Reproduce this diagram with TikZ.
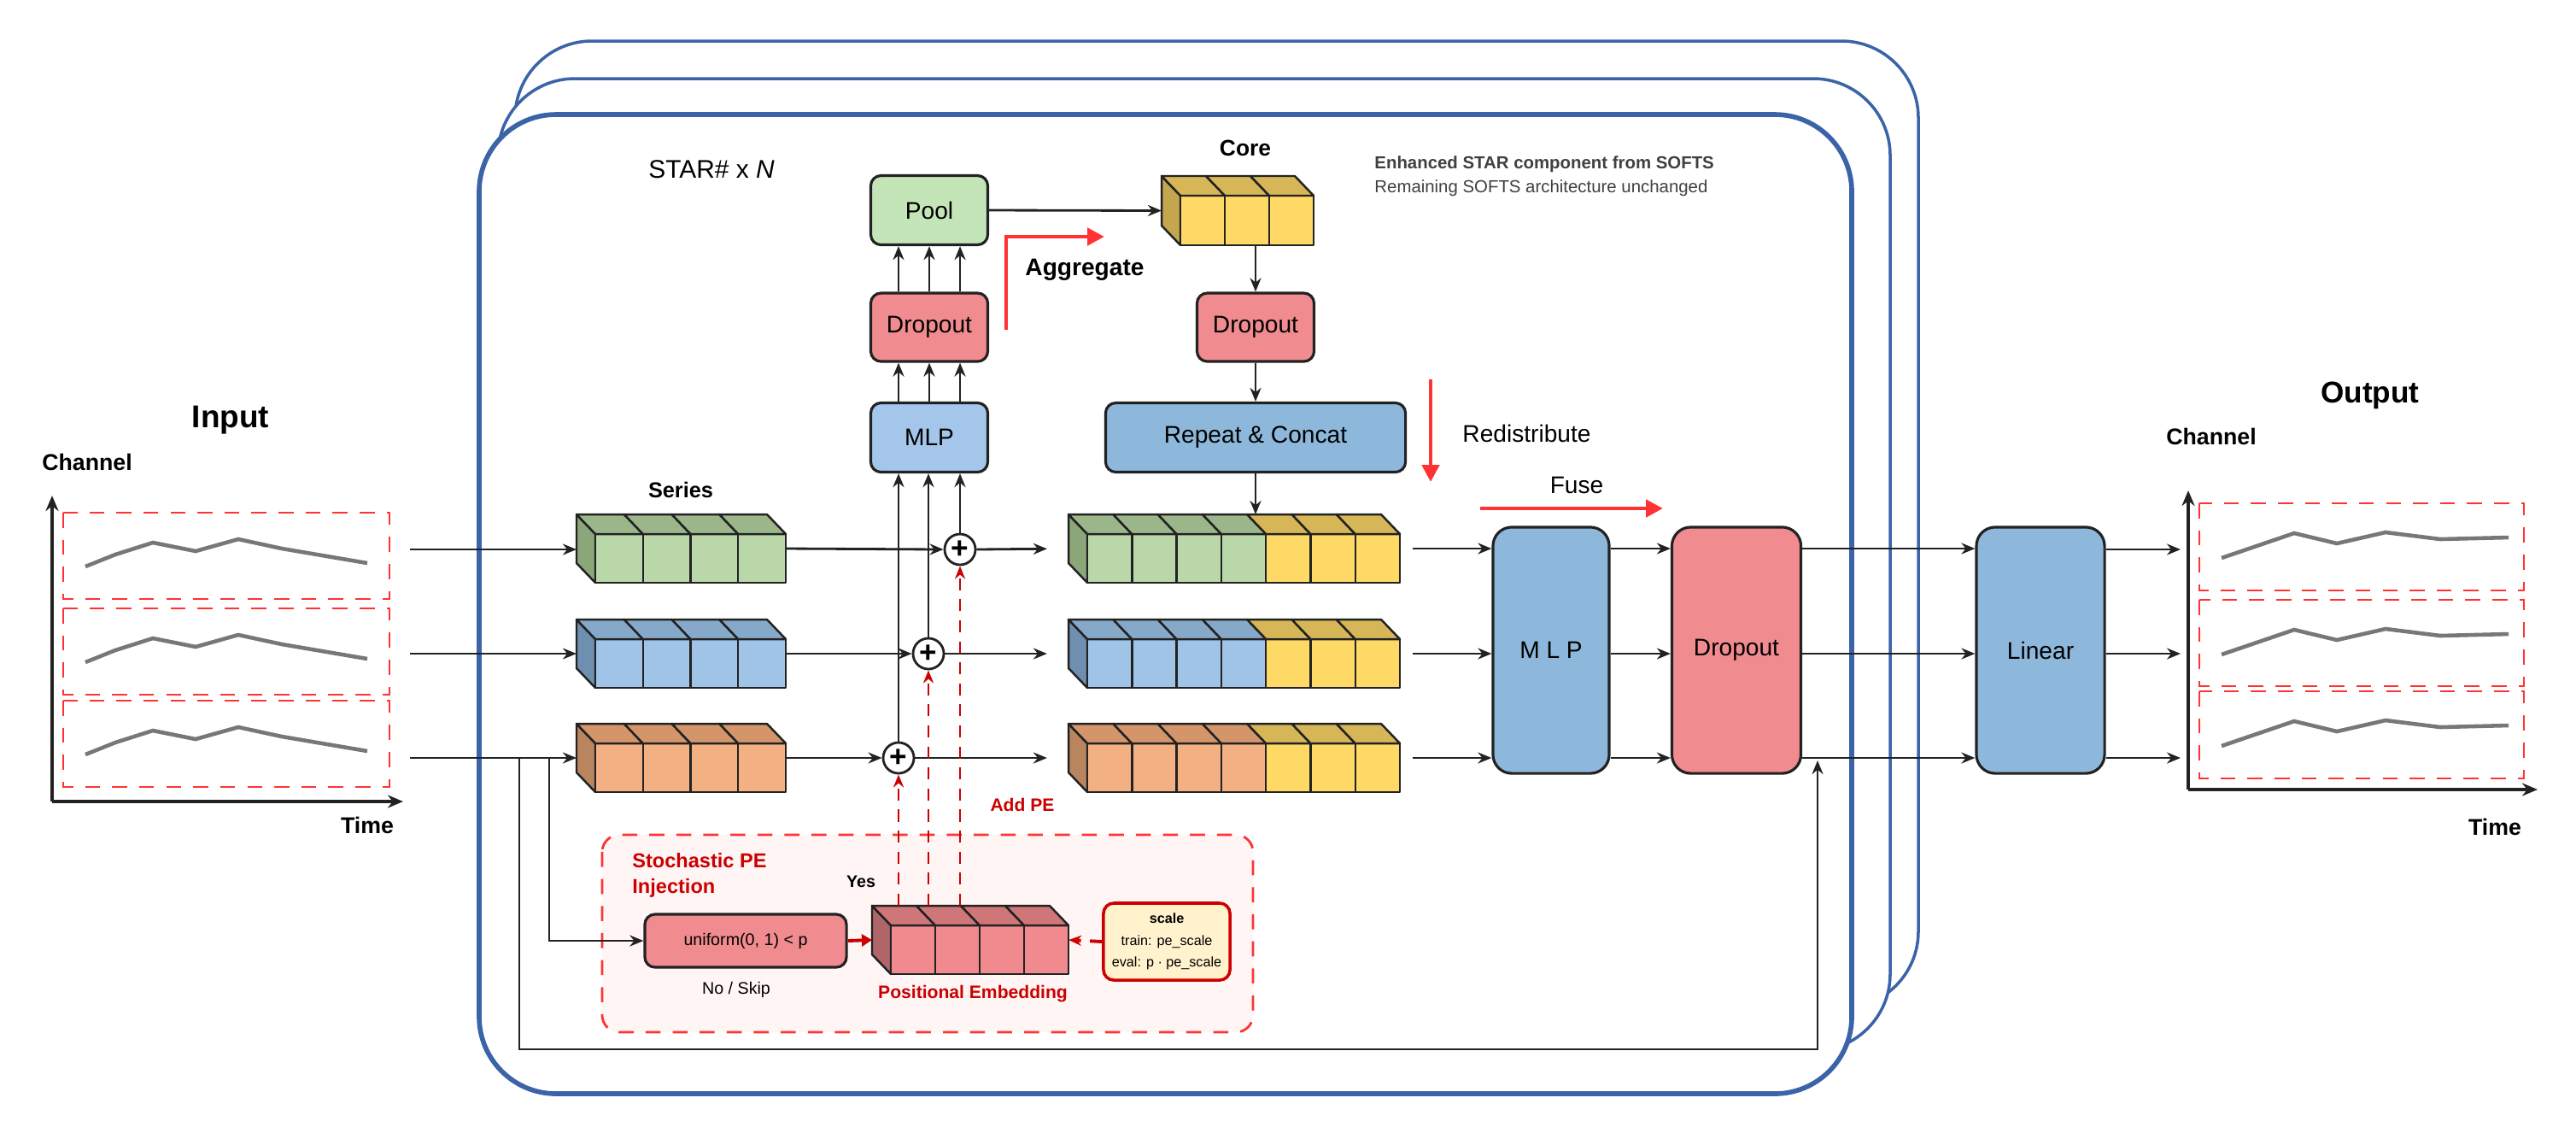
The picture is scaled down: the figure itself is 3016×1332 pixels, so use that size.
\documentclass[tikz,border=0pt]{standalone}
\usepackage{fontspec}
\setmainfont{Liberation Sans}
\usetikzlibrary{arrows.meta,calc}
\definecolor{gF}{HTML}{B9D7A8}\definecolor{gT}{HTML}{9BB78A}\definecolor{gS}{HTML}{8BA77A}
\definecolor{bF}{HTML}{A0C4E8}\definecolor{bT}{HTML}{87A9C9}\definecolor{bS}{HTML}{6E8FB0}
\definecolor{oF}{HTML}{F3B183}\definecolor{oT}{HTML}{D4956A}\definecolor{oS}{HTML}{B8855F}
\definecolor{yF}{HTML}{FFD966}\definecolor{yT}{HTML}{D6B656}\definecolor{yS}{HTML}{C4A64F}
\definecolor{pF}{HTML}{F08A8E}\definecolor{pT}{HTML}{CF7679}\definecolor{pS}{HTML}{B06669}
\definecolor{poolc}{HTML}{C3E5B7}\definecolor{dropc}{HTML}{F08B8F}\definecolor{smlpc}{HTML}{A4C6EA}
\definecolor{bluec}{HTML}{8DB8DB}\definecolor{redc}{HTML}{FF3333}\definecolor{dred}{HTML}{CC0000}
\definecolor{framec}{HTML}{3B63A8}\definecolor{linec}{HTML}{222222}\definecolor{plotc}{HTML}{777777}
\definecolor{scalec}{HTML}{FFF2CC}\definecolor{panelc}{HTML}{FFF5F5}
\tikzset{
 cubeline/.style={draw=linec,line width=0.7pt,line join=round},
 box/.style={draw=linec,line width=0.9pt,rounded corners=0.12cm,inner sep=0,font=\fontsize{8}{9}\selectfont},
 arr/.style={draw=linec,line width=0.8pt,-{Stealth[length=0.16cm,width=0.13cm]}},
 plain/.style={draw=linec,line width=0.8pt},
 rarr/.style={draw=redc,line width=1.4pt,-{Triangle[length=0.2cm,width=0.2cm]}},
 pearr/.style={draw=dred,line width=0.8pt,dash pattern=on 4pt off 3pt,-{Stealth[length=0.15cm,width=0.12cm]}},
 plus/.style={circle,draw=linec,line width=0.8pt,fill=white,minimum size=0.36cm,inner sep=0},
 frame/.style={draw=framec,fill=white,rounded corners=0.9cm},
 reddash/.style={draw=redc,line width=0.8pt,dash pattern=on 5pt off 4pt},
 series/.style={draw=plotc,line width=1.3pt},
}
\newcommand\mycube[9]{%
 \pgfmathsetmacro\ntot{int(#6+#7)}%
 \pgfmathsetmacro\fx{#2+22}\pgfmathsetmacro\fy{#3+23}%
 \pgfmathsetmacro\cw{(#4-\fx)/\ntot}%
 \draw[cubeline,fill=#8S] (#2,#3)--(\fx,\fy)--(\fx,#5)--(#2,#5-23)--cycle;
 \foreach \i in {1,...,\ntot}{%
   \pgfmathsetmacro\xa{\fx+(\i-1)*\cw}\pgfmathsetmacro\xb{\fx+\i*\cw}%
   \ifnum\i>#6 \def\cc{#9}\else\def\cc{#8}\fi
   \draw[cubeline,fill=\cc F] (\xa,\fy) rectangle (\xb,#5);
   \draw[cubeline,fill=\cc T] (\xa-22,#3)--(\xb-22,#3)--(\xb,\fy)--(\xa,\fy)--cycle;
 }%
 \node[inner sep=0,outer sep=0,minimum width={(#4-#2)*0.2845pt},minimum height={(#5-#3)*0.2845pt}] (#1) at ({(#2+#4)/2},{(#3+#5)/2}) {};
}
\begin{document}
\begin{tikzpicture}[x=0.01cm,y=-0.01cm]
\useasboundingbox (0,0) rectangle (3016,1332);
% frames
\draw[frame,line width=1pt] (603,48) rectangle (2246,1180);
\draw[frame,line width=1pt] (583,92) rectangle (2213,1230);
\draw[frame,line width=1.6pt] (561,134) rectangle (2168,1280);
\node[font=\fontsize{8.5}{10}\selectfont] (starn) at (833,198) {STAR\# x \textit{N}};
\node[anchor=west,align=left,font=\fontsize{5.8}{8}\selectfont,text=black!75] (note) at (1597,206) {\textbf{Enhanced STAR component from SOFTS}\\Remaining SOFTS architecture unchanged};
% input plot
\node[font=\bfseries\fontsize{10.5}{12}\selectfont] (inlab) at (270,492) {Input};
\node[font=\bfseries\fontsize{7.6}{9}\selectfont] (inch) at (102,541) {Channel};
\node[font=\bfseries\fontsize{7.6}{9}\selectfont] (intime) at (430,966) {Time};
\coordinate (io) at (61,938);
\draw[plain,line width=1pt,-{Stealth[length=0.18cm,width=0.15cm]}] (io) -- (61,580);
\draw[plain,line width=1pt,-{Stealth[length=0.18cm,width=0.15cm]}] (io) -- (472,938);
\foreach \t/\b in {600/701,712/813,820/921}{
 \draw[reddash] (74,\t) rectangle (456,\b);
 \draw[series] (100,\t+63)--(135,\t+49)--(179,\t+35)--(229,\t+45)--(279,\t+31)--(330,\t+42)--(430,\t+59);
}
% output plot
\node[font=\bfseries\fontsize{10}{12}\selectfont] (outlab) at (2775,463) {Output};
\node[font=\bfseries\fontsize{7.6}{9}\selectfont] (outch) at (2589,511) {Channel};
\node[font=\bfseries\fontsize{7.6}{9}\selectfont] (outtime) at (2921,968) {Time};
\coordinate (oo) at (2562,924);
\draw[plain,line width=1pt,-{Stealth[length=0.18cm,width=0.15cm]}] (oo) -- (2562,574);
\draw[plain,line width=1pt,-{Stealth[length=0.18cm,width=0.15cm]}] (oo) -- (2971,924);
\foreach \t/\b in {589/691,702/803,809/911}{
 \draw[reddash] (2575,\t) rectangle (2955,\b);
 \draw[series] (2601,\t+64)--(2686,\t+35)--(2736,\t+47)--(2793,\t+34)--(2857,\t+42)--(2937,\t+40);
}
% top boxes
\node[box,fill=poolc,minimum width=1.37cm,minimum height=0.81cm] (pool) at (1088,246) {Pool};
\node[box,fill=dropc,minimum width=1.37cm,minimum height=0.8cm] (ldrop) at (1088,383) {Dropout};
\node[box,fill=smlpc,minimum width=1.37cm,minimum height=0.81cm] (smlp) at (1088,512) {MLP};
\mycube{core}{1360}{206}{1538}{287}{3}{0}{y}{y}
\node[font=\bfseries\fontsize{7.5}{9}\selectfont] (corelab) at (1458,173) {Core};
\node[box,fill=dropc,minimum width=1.37cm,minimum height=0.8cm] (rdrop) at (1470,383) {Dropout};
\node[box,fill=bluec,minimum width=3.51cm,minimum height=0.81cm] (rep) at (1470,512) {Repeat \& Concat};
% series and concat cubes
\node[font=\bfseries\fontsize{7.2}{9}\selectfont] (serlab) at (797,573) {Series};
\mycube{sg}{675}{602}{920}{682}{4}{0}{g}{g}
\mycube{sb}{675}{725}{920}{805}{4}{0}{b}{b}
\mycube{so}{675}{847}{920}{927}{4}{0}{o}{o}
\mycube{cg}{1251}{602}{1639}{682}{4}{3}{g}{y}
\mycube{cb}{1251}{725}{1639}{805}{4}{3}{b}{y}
\mycube{co}{1251}{847}{1639}{927}{4}{3}{o}{y}
% big blocks
\node[box,fill=bluec,rounded corners=0.22cm,minimum width=1.36cm,minimum height=2.88cm] (bmlp) at (1816,761) {M L P};
\node[box,fill=dropc,rounded corners=0.22cm,minimum width=1.51cm,minimum height=2.88cm] (bdrop) at (2033,761) {Dropout};
\node[box,fill=bluec,rounded corners=0.22cm,minimum width=1.5cm,minimum height=2.88cm] (lin) at (2389,761) {Linear};
% plus nodes
\node[plus] (plusg) at (1124,643) {\textbf{+}};
\node[plus] (plusb) at (1087,765) {\textbf{+}};
\node[plus] (pluso) at (1052,887) {\textbf{+}};
% PE panel
\draw[reddash,fill=panelc,rounded corners=0.2cm] (705,977) rectangle (1467,1208);
\node[anchor=west,align=left,text=dred,font=\bfseries\fontsize{6.7}{8.5}\selectfont] (sttl) at (728,1024) {Stochastic PE\\Injection};
\node[box,fill=dropc,minimum width=2.36cm,minimum height=0.62cm,font=\fontsize{5.6}{7}\selectfont] (unif) at (873,1101) {uniform(0, 1) < p};
\node[font=\fontsize{5.6}{7}\selectfont] (noskip) at (862,1158) {No / Skip};
\node[font=\bfseries\fontsize{5.6}{7}\selectfont] (yes) at (1008,1032) {Yes};
\mycube{pe}{1021}{1060}{1251}{1140}{4}{0}{p}{p}
\node[text=dred,font=\bfseries\fontsize{6}{7}\selectfont] (pelab) at (1139,1163) {Positional Embedding};
\node[draw=dred,line width=1pt,fill=scalec,rounded corners=0.12cm,minimum width=1.48cm,minimum height=0.9cm,inner sep=0,align=center,font=\fontsize{4.6}{7.2}\selectfont] (scale) at (1366,1102) {\textbf{scale}\\train: pe\_scale\\eval: p · pe\_scale};
\node[text=dred,font=\bfseries\fontsize{6}{7}\selectfont] (addpe) at (1197,942) {Add PE};
% red process arrows
\coordinate (ag0) at (1178,386); \coordinate (ag1) at (1178,277); \coordinate (ag2) at (1293,277);
\draw[rarr] (ag0) -- (ag1) -- (ag2);
\node[font=\bfseries\fontsize{8}{9}\selectfont] (agglab) at (1270,316) {Aggregate};
\coordinate (rd0) at (1675,444); \coordinate (rd1) at (1675,564);
\draw[rarr] (rd0) -- (rd1);
\node[anchor=west,font=\fontsize{8}{9}\selectfont] (redlab) at (1700,507) {Redistribute};
\coordinate (fu0) at (1733,595); \coordinate (fu1) at (1947,595);
\draw[rarr] (fu0) -- (fu1);
\node[font=\fontsize{8}{9}\selectfont] (fuselab) at (1846,568) {Fuse};
% connectors top
\foreach \s in {-0.36,0,0.36}{
 \draw[arr] ([xshift=\s cm]smlp.north) -- ([xshift=\s cm]ldrop.south);
 \draw[arr] ([xshift=\s cm]ldrop.north) -- ([xshift=\s cm]pool.south);
}
\draw[arr] (pool.east) -- (core.west);
\draw[arr] (core.south -| rdrop.north) -- (rdrop.north);
\draw[arr] (rdrop.south) -- (rep.north);
\draw[arr] (rep.south) -- (rep.south |- cg.north);
% series to plus
\draw[arr] (sg.east) -- (plusg.west);
\draw[arr] (sb.east) -- (plusb.west);
\draw[arr] (so.east) -- (pluso.west);
\draw[arr,shorten >=0.25cm] (plusg.east) -- (cg.west);
\draw[arr,shorten >=0.25cm] (plusb.east) -- (cb.west);
\draw[arr,shorten >=0.25cm] (pluso.east) -- (co.west);
\draw[arr] (plusg.north) -- (smlp.south -| plusg.north);
\draw[arr] (plusb.north) -- (smlp.south -| plusb.north);
\draw[arr] (pluso.north) -- (smlp.south -| pluso.north);
\draw[pearr] (pe.north -| plusg) -- (plusg.south);
\draw[pearr] (pe.north -| plusb) -- (plusb.south);
\draw[pearr] (pe.north -| pluso) -- (pluso.south);
% concat to MLP etc
\foreach \r in {cg,cb,co}{
 \draw[arr,shorten <=0.15cm] (\r.east) -- (bmlp.west |- \r);
 \draw[arr] (bmlp.east |- \r) -- (bdrop.west |- \r);
 \draw[arr] (bdrop.east |- \r) -- (lin.west |- \r);
}
\coordinate (og) at (2553,643); \coordinate (ob) at (2553,765); \coordinate (oor) at (2553,887);
\draw[arr] (lin.east |- og) -- (og);
\draw[arr] (lin.east |- ob) -- (ob);
\draw[arr] (lin.east |- oor) -- (oor);
% input arrows
\coordinate (ig) at (480,643); \coordinate (ib) at (480,765); \coordinate (iorng) at (480,887);
\draw[arr] (ig) -- (sg.west |- ig);
\draw[arr] (ib) -- (sb.west |- ib);
\draw[arr] (iorng) -- (so.west |- iorng);
% skip and PE branch
\coordinate (j1) at (608,887); \coordinate (j2) at (643,887);
\coordinate (bl) at (608,1228); \coordinate (br) at (2128,1228); \coordinate (bt) at (2128,890);
\draw[arr] (j2) |- (unif.west);
\draw[arr] (j1) -- (bl) -- (br) -- (bt);
\draw[draw=dred,line width=1.1pt,-{Triangle[length=0.12cm,width=0.14cm]}] (unif.east) -- (pe.west);
\draw[pearr,line width=1.1pt] (scale.west) -- (pe.east);
\end{tikzpicture}
\end{document}
